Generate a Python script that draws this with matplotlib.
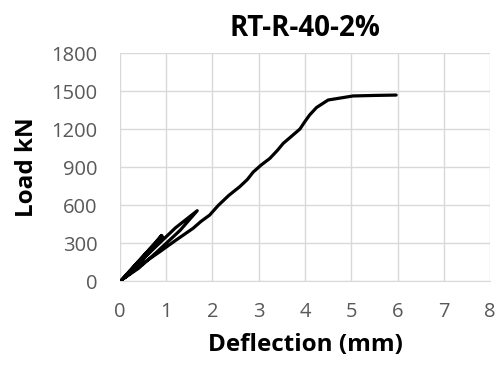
import matplotlib.pyplot as plt

# load-deflection curve (with unload/reload cycles)
deflection = [0, 0.05, 0.3, 0.6, 0.9, 0.6, 0.3, 0.05, 0.35, 0.65, 0.92,
              0.62, 0.32, 0.08, 0.4, 0.8, 1.2, 1.67,
              1.3, 0.8, 0.4, 0.1, 0.5, 0.86, 1.2, 1.58, 1.75, 1.94, 2.12, 2.35,
              2.59, 2.75, 2.88, 3.05, 3.24, 3.4, 3.53, 3.7, 3.89, 4.0,
              4.10, 4.25, 4.50, 5.04, 5.5, 5.97]
load = [0, 15, 115, 235, 360, 215, 95, 12, 135, 255, 350,
        225, 105, 20, 140, 280, 420, 555,
        400, 230, 100, 25, 140, 231, 320, 416, 470, 521, 595, 675,
        745, 800, 860, 915, 968, 1030, 1087, 1140, 1200, 1260,
        1311, 1370, 1429, 1461, 1465, 1468]

xticks = [0, 1, 2, 3, 4, 5, 6, 7, 8]
yticks = [0, 300, 600, 900, 1200, 1500, 1800]

plt.rcParams['font.family'] = ['Open Sans', 'DejaVu Sans']

fig = plt.figure(figsize=(4.97, 3.72), dpi=100)
ax = fig.add_axes([0.2414, 0.2446, 0.7446, 0.6129])

ax.plot(deflection, load, color='black', lw=2.3, solid_joinstyle='round',
        solid_capstyle='round', zorder=3)

ax.set_xlim(0, 8)
ax.set_ylim(0, 1800)
ax.set_xticks(xticks)
ax.set_yticks(yticks)
ax.grid(True, color='#d9d9d9', lw=1.0)
ax.set_axisbelow(True)
for s in ['top', 'right', 'left']:
    ax.spines[s].set_visible(False)
ax.spines['bottom'].set_color('#d9d9d9')
ax.tick_params(length=0, labelsize=14.5, labelcolor='#595959')
ax.tick_params(axis='y', pad=16)
ax.tick_params(axis='x', pad=15)

ax.set_title('RT-R-40-2%', fontsize=20, fontweight='bold', pad=12)
ax.set_xlabel('Deflection (mm)', fontsize=17.5, fontweight='bold', labelpad=8)
ax.set_ylabel('Load kN', fontsize=17.5, fontweight='bold', labelpad=9)

fig.savefig('out.png', dpi=100)
